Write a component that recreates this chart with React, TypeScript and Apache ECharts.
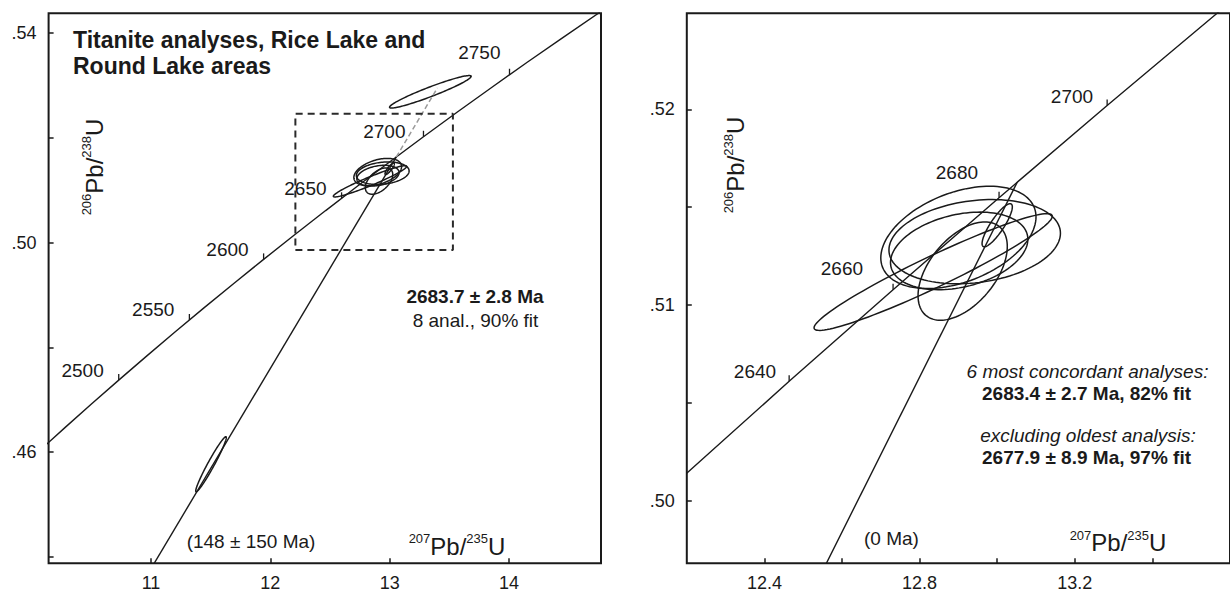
import React, { useEffect, useRef } from "react";
import * as echarts from "echarts";

// U decay constants (per Ma)
const LAMBDA_238 = 1.55125e-4;
const LAMBDA_235 = 9.8485e-4;

// ages (Ma) used to trace the concordia curve
const CONCORDIA_AGES = [2400, 2420, 2440, 2460, 2480, 2500, 2520, 2540, 2560, 2580, 2600, 2620, 2640, 2660, 2680, 2700, 2720, 2740, 2760, 2780, 2800];

// labelled age ticks on concordia
const LEFT_TICK_AGES = [2500, 2550, 2600, 2650, 2700, 2750];
const RIGHT_TICK_AGES = [2640, 2660, 2680, 2700];

// error ellipses: [207Pb/235U centre, 206Pb/238U centre, x half-extent, y half-extent, correlation]
const CLUSTER_ELLIPSES = [
  [12.9, 0.51346, 0.2, 0.00261, 0.4],
  [12.942, 0.51324, 0.221, 0.00215, 0.2],
  [12.902, 0.51277, 0.177, 0.00198, 0.3],
  [12.911, 0.51174, 0.115, 0.00251, 0.5],
  [13.0, 0.51408, 0.039, 0.0011, 0.85],
  [12.835, 0.51169, 0.307, 0.00298, 0.955],
];
const OUTLIER_ELLIPSES = [
  [13.341, 0.52878, 0.342, 0.0031, 0.95],
  [11.503, 0.4577, 0.128, 0.00525, 0.97],
];

// discordia intercept ages (Ma)
const LEFT_INTERCEPTS = [148, 2683.7];
const RIGHT_INTERCEPTS = [0, 2683.4];
const REVERSE_END_X = 13.4;

// zoom box in left panel
const ZOOM_BOX_X = [12.21, 13.53];
const ZOOM_BOX_Y = [0.4986, 0.5246];

// axis ticks / labels
const LEFT_X_TICKS = [11, 12, 13, 14];
const LEFT_Y_TICKS = [0.44, 0.46, 0.48, 0.5, 0.52, 0.54];
const LEFT_Y_LABELS = [0.46, 0.5, 0.54];
const RIGHT_X_TICKS = [12.4, 12.6, 12.8, 13.0, 13.2, 13.4];
const RIGHT_X_LABELS = [12.4, 12.8, 13.2];
const RIGHT_Y_TICKS = [0.5, 0.505, 0.51, 0.515, 0.52];
const RIGHT_Y_LABELS = [0.5, 0.51, 0.52];

const INK = "#1a1a1a";
const FONT = '"Liberation Sans", Arial, Helvetica, sans-serif';

// label offsets (px) for concordia age labels: [right edge dx, centre dy]
const LEFT_LABEL_OFFSETS: Record<number, number[]> = {
  2750: [-9, -22],
  2700: [-18, -5],
};
const RIGHT_LABEL_OFFSETS: Record<number, number[]> = {
  2700: [-14, -9],
  2680: [-21, -25],
  2660: [-30, -21],
  2640: [-13, -10],
};

function ratios(age: number) {
  return [Math.exp(LAMBDA_235 * age) - 1, Math.exp(LAMBDA_238 * age) - 1];
}

function ellipseSeries(gi: number, data: number[][]) {
  return {
    type: "custom",
    xAxisIndex: gi,
    yAxisIndex: gi,
    clip: true,
    silent: true,
    data,
    renderItem: (params: any, api: any) => {
      const cx = api.value(0), cy = api.value(1), sx = api.value(2), sy = api.value(3), r = api.value(4);
      const k = Math.sqrt(1 - r * r);
      const pts: number[][] = [];
      const n = 120;
      for (let i = 0; i < n; i++) {
        const t = (i / n) * 2 * Math.PI;
        pts.push(api.coord([cx + sx * Math.cos(t), cy + sy * (r * Math.cos(t) + k * Math.sin(t))]));
      }
      return {
        type: "polygon",
        shape: { points: pts },
        style: { fill: "none", stroke: INK, lineWidth: 1.5 },
      };
    },
  };
}

function tickSeries(gi: number, ages: number[], offsets: Record<number, number[]>) {
  return {
    type: "custom",
    xAxisIndex: gi,
    yAxisIndex: gi,
    clip: false,
    silent: true,
    data: ages.map((a) => [...ratios(a), a]),
    renderItem: (params: any, api: any) => {
      const p = api.coord([api.value(0), api.value(1)]);
      const age = api.value(2);
      const off = offsets[age] || [-15, -10];
      return {
        type: "group",
        children: [
          { type: "line", shape: { x1: p[0], y1: p[1], x2: p[0], y2: p[1] - 6 }, style: { stroke: INK, lineWidth: 1.3 } },
          {
            type: "text",
            x: p[0] + off[0],
            y: p[1] + off[1],
            style: { text: String(age), fill: INK, fontSize: 19, fontFamily: FONT, align: "right", verticalAlign: "middle" },
          },
        ],
      };
    },
  };
}

function lineSeries(gi: number, data: number[][], style: any) {
  return {
    type: "line",
    xAxisIndex: gi,
    yAxisIndex: gi,
    data,
    symbol: "none",
    clip: true,
    silent: true,
    lineStyle: style,
  };
}

function axisPair(gi: number, min: number, max: number, ticks: number[], labels: number[], fmt: (v: number) => string, isX: boolean) {
  return {
    type: "value",
    gridIndex: gi,
    min,
    max,
    axisLine: { show: false },
    splitLine: { show: false },
    axisTick: { show: true, inside: true, length: 5, customValues: ticks, lineStyle: { color: INK, width: 1.5 } },
    axisLabel: {
      show: true,
      customValues: labels,
      formatter: (v: number) => fmt(v),
      fontSize: 18,
      fontFamily: FONT,
      color: INK,
      margin: isX ? 11 : 12,
    },
  };
}

const supLabel = (a: string, b: string) => `{s|${a}}{m|Pb/}{s|${b}}{m|U}`;
const supRich = {
  s: { fontSize: 13, fontFamily: FONT, fill: INK, color: INK, verticalAlign: "top", lineHeight: 26 },
  m: { fontSize: 24, fontFamily: FONT, fill: INK, color: INK, verticalAlign: "bottom", lineHeight: 26 },
};

function text(x: number, y: number, t: string, extra: any = {}) {
  return {
    type: "text",
    x,
    y,
    silent: true,
    style: { text: t, fill: INK, fontSize: 19, fontFamily: FONT, align: "center", verticalAlign: "middle", ...extra },
  };
}

export default function App() {
  const ref = useRef<HTMLDivElement>(null);

  useEffect(() => {
    document.body.style.margin = "0";
    if (!ref.current) return;
    const chart = echarts.init(ref.current, undefined, { renderer: "svg" });

    const concordia = CONCORDIA_AGES.map(ratios);
    const leftDisc = LEFT_INTERCEPTS.map(ratios);
    const rightDisc = RIGHT_INTERCEPTS.map(ratios);
    const slope = (leftDisc[1][1] - leftDisc[0][1]) / (leftDisc[1][0] - leftDisc[0][0]);
    const reverse = [leftDisc[1], [REVERSE_END_X, leftDisc[1][1] + slope * (REVERSE_END_X - leftDisc[1][0])]];
    const box = [
      [ZOOM_BOX_X[0], ZOOM_BOX_Y[0]],
      [ZOOM_BOX_X[1], ZOOM_BOX_Y[0]],
      [ZOOM_BOX_X[1], ZOOM_BOX_Y[1]],
      [ZOOM_BOX_X[0], ZOOM_BOX_Y[1]],
      [ZOOM_BOX_X[0], ZOOM_BOX_Y[0]],
    ];

    const fmt2 = (v: number) => v.toFixed(2).replace(/^0/, "");
    const fmt1 = (v: number) => v.toFixed(1);
    const fmt0 = (v: number) => String(Math.round(v));

    const option: any = {
      animation: false,
      backgroundColor: "#ffffff",
      grid: [
        { left: 48.6, top: 13.3, width: 552.4, height: 550, show: true, borderColor: INK, borderWidth: 2, backgroundColor: "transparent" },
        { left: 686.8, top: 13.3, width: 565, height: 550, show: true, borderColor: INK, borderWidth: 2, backgroundColor: "transparent" },
      ],
      xAxis: [
        axisPair(0, 10.142, 14.771, LEFT_X_TICKS, LEFT_X_TICKS, fmt0, true),
        axisPair(1, 12.2, 13.6, RIGHT_X_TICKS, RIGHT_X_LABELS, fmt1, true),
      ],
      yAxis: [
        axisPair(0, 0.43879, 0.54376, LEFT_Y_TICKS, LEFT_Y_LABELS, fmt2, false),
        axisPair(1, 0.49682, 0.5249, RIGHT_Y_TICKS, RIGHT_Y_LABELS, fmt2, false),
      ],
      series: [
        lineSeries(0, concordia, { color: INK, width: 1.4 }),
        lineSeries(0, leftDisc, { color: INK, width: 1.4 }),
        lineSeries(0, reverse, { color: "#9a9a9a", width: 1.5, type: [5, 3] }),
        lineSeries(0, box, { color: "#2a2a2a", width: 2, type: [7, 5] }),
        ellipseSeries(0, [...CLUSTER_ELLIPSES, ...OUTLIER_ELLIPSES]),
        tickSeries(0, LEFT_TICK_AGES, LEFT_LABEL_OFFSETS),
        lineSeries(1, concordia, { color: INK, width: 1.4 }),
        lineSeries(1, rightDisc, { color: INK, width: 1.4 }),
        ellipseSeries(1, [...CLUSTER_ELLIPSES, ...OUTLIER_ELLIPSES]),
        tickSeries(1, RIGHT_TICK_AGES, RIGHT_LABEL_OFFSETS),
      ],
      graphic: [
        {
          type: "text",
          x: 73,
          y: 26.5,
          silent: true,
          style: {
            text: "Titanite analyses, Rice Lake and\nRound Lake areas",
            fill: INK,
            fontSize: 23,
            fontWeight: "bold",
            fontFamily: FONT,
            lineHeight: 26,
            align: "left",
            verticalAlign: "top",
          },
        },
        text(475, 296, "2683.7 ± 2.8 Ma", { fontWeight: "bold" }),
        text(475.5, 320, "8 anal., 90% fit"),
        text(251, 541.5, "(148 ± 150 Ma)"),
        text(1087.5, 371.5, "6 most concordant analyses:", { fontStyle: "italic" }),
        text(1086.5, 393.5, "2683.4 ± 2.7 Ma, 82% fit", { fontWeight: "bold" }),
        text(1088, 435.5, "excluding oldest analysis:", { fontStyle: "italic" }),
        text(1086.5, 457, "2677.9 ± 8.9 Ma, 97% fit", { fontWeight: "bold" }),
        text(891.5, 538.5, "(0 Ma)"),
        { type: "text", x: 457, y: 545, silent: true, style: { text: supLabel("207", "235"), rich: supRich, align: "center", verticalAlign: "middle" } },
        { type: "text", x: 1118, y: 541.5, silent: true, style: { text: supLabel("207", "235"), rich: supRich, align: "center", verticalAlign: "middle" } },
        { type: "text", x: 93, y: 167, rotation: Math.PI / 2, silent: true, style: { text: supLabel("206", "238"), rich: supRich, align: "center", verticalAlign: "middle" } },
        { type: "text", x: 734.6, y: 165, rotation: Math.PI / 2, silent: true, style: { text: supLabel("206", "238"), rich: supRich, align: "center", verticalAlign: "middle" } },
      ],
    };

    chart.setOption(option);
    return () => chart.dispose();
  }, []);

  return <div ref={ref} style={{ width: 1230, height: 594 }} />;
}
